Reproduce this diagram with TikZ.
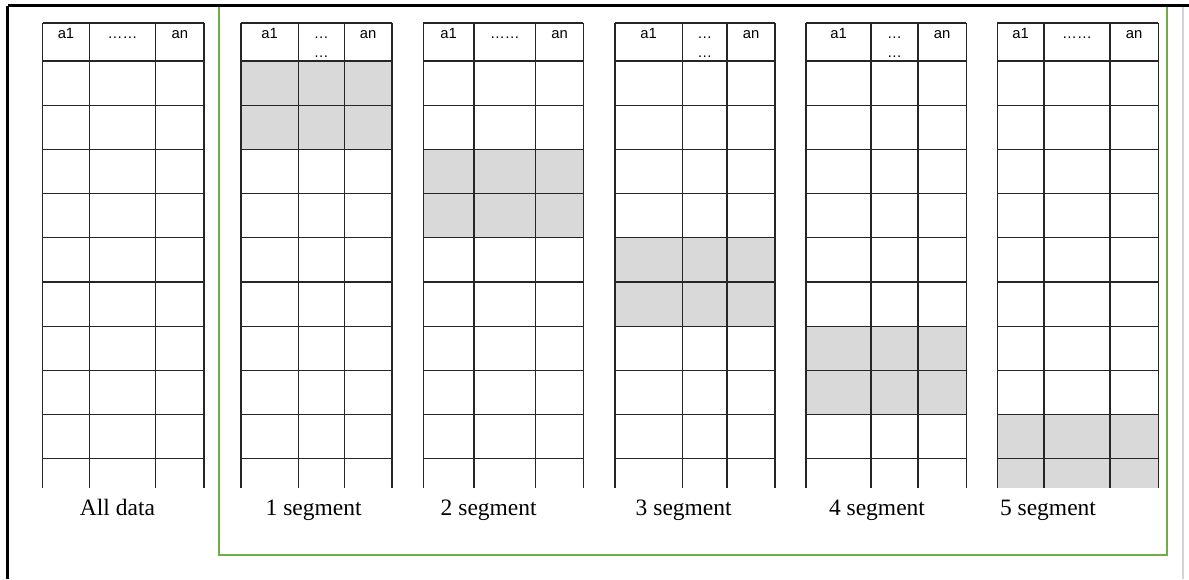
\documentclass[tikz,border=0pt]{standalone}
\usepackage{fontspec}
\setmainfont{Liberation Serif}
\setsansfont{Liberation Sans}
\definecolor{cellshade}{HTML}{D9D9D9}
\definecolor{framegreen}{HTML}{70AD47}
\definecolor{edgegray}{HTML}{D4D4D4}
\begin{document}
\begin{tikzpicture}[x=0.5pt,y=-0.5pt,
  gridline/.style={draw=black!85,line width=0.65pt},
  shadecell/.style={fill=cellshade},
  hdr/.style={font=\sffamily\fontsize{7.4}{8}\selectfont,anchor=base,inner sep=0pt},
  lbl/.style={font=\fontsize{11.75}{13}\selectfont,anchor=base,inner sep=0pt},
  greenframe/.style={draw=framegreen,line width=1.35pt},
  blackframe/.style={draw=black,line width=1.1pt}]
\useasboundingbox (0,0) rectangle (1189,579);
\fill[white] (0,0) rectangle (1189,579);
% light gray right edge
\draw[draw=edgegray,line width=0.6pt] (1183,5.5) -- (1183,579);
% green frame
\draw[greenframe] (219,6) rectangle (1167,555);
% black outer frame (top and left)
\draw[blackframe] (7.5,5.5) -- (1189,5.5);
\draw[blackframe] (7.5,5.5) -- (7.5,579);
% tables: index / col x positions / shaded rows (top,bottom)
\foreach \t/\xa/\xb/\xc/\xd/\sa/\sb in {
  0/42.7/89.3/155.7/204/0/0,
  1/241/298.3/344.3/392/61/149.4,
  2/423.3/474/535.7/583.3/149.4/237.8,
  3/615/682.3/727/775/237.8/326.2,
  4/806/871/918/966.2/326.2/414.6,
  5/997.3/1044/1110/1158.3/414.6/488}{
  \ifnum\t>0
    \fill[shadecell] (\xa,\sa) rectangle (\xd,\sb);
  \fi
  \foreach \yy in {23,61,105.2,149.4,193.6,237.8,282,326.2,370.4,414.6,458.8}{
    \draw[gridline] (\xa,\yy) -- (\xd,\yy);
  }
  \foreach \xx in {\xa,\xb,\xc,\xd}{
    \draw[gridline] (\xx,23) -- (\xx,488);
  }
  \node[hdr] (h\t a) at ({(\xa+\xb)/2},38) {a1};
  \node[hdr] (h\t n) at ({(\xc+\xd)/2},38) {an};
}
% middle header cells
\node[hdr] (h0m) at ({(89.3+155.7)/2},38) {……};
\node[hdr] (h2m) at ({(474+535.7)/2},38) {……};
\node[hdr] (h5m) at ({(1044+1110)/2},38) {……};
\node[hdr] (h1m) at ({(298.3+344.3)/2},38) {…};
\node[hdr] (h1mm) at ({(298.3+344.3)/2},57) {…};
\node[hdr] (h3m) at ({(682.3+727)/2},38) {…};
\node[hdr] (h3mm) at ({(682.3+727)/2},57) {…};
\node[hdr] (h4m) at ({(871+918)/2},38) {…};
\node[hdr] (h4mm) at ({(871+918)/2},57) {…};
% labels
\node[lbl] (l0) at (117.5,515) {All data};
\node[lbl] (l1) at (313.7,515) {1 segment};
\node[lbl] (l2) at (488.7,515) {2 segment};
\node[lbl] (l3) at (683.7,515) {3 segment};
\node[lbl] (l4) at (877,515) {4 segment};
\node[lbl] (l5) at (1048,515) {5 segment};
\end{tikzpicture}
\end{document}
